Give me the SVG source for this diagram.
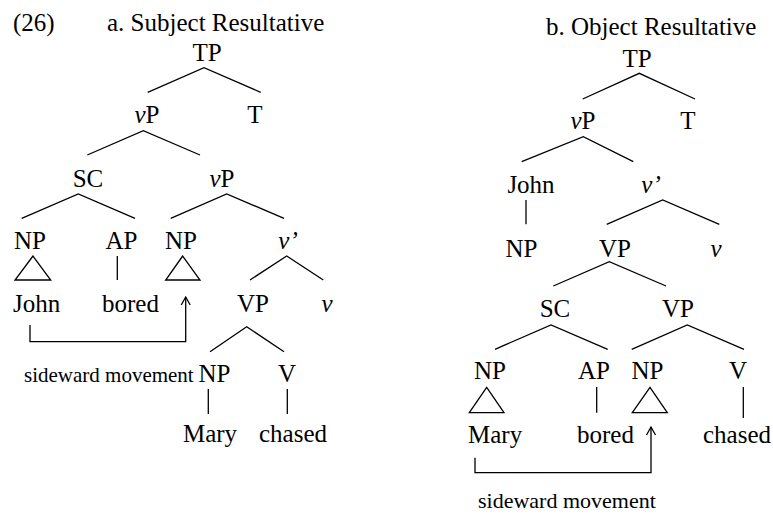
<svg xmlns="http://www.w3.org/2000/svg" width="773" height="518" viewBox="0 0 773 518">
<style>
text{font-size:25px;fill:#000}
.m{text-anchor:middle}
.i{font-style:italic}
.s{font-size:21px}
.s2{font-size:22px}
line,path,polygon{stroke:#000;stroke-width:1.3;fill:none}
</style>
<rect width="773" height="518" fill="#fff"/>
<g font-family="Liberation Serif, Times New Roman, serif">
<g id="titles">
<text x="13" y="31">(26)</text>
<text x="107" y="31">a. Subject Resultative</text>
<text x="546" y="35">b. Object Resultative</text>
</g>
<g id="treeA">
<g id="a-TP"><text class="m" x="207" y="61">TP</text></g>
<g id="a-vP1"><text class="m" x="147" y="123"><tspan class="i">v</tspan>P</text></g>
<g id="a-T"><text class="m" x="255" y="123">T</text></g>
<g id="a-SC"><text class="m" x="88" y="187">SC</text></g>
<g id="a-vP2"><text class="m" x="222" y="187"><tspan class="i">v</tspan>P</text></g>
<g id="a-NP1"><text class="m" x="30" y="249">NP</text></g>
<g id="a-AP"><text class="m" x="121.5" y="249">AP</text></g>
<g id="a-NP2"><text class="m" x="181" y="249">NP</text></g>
<g id="a-vbar"><text class="m i" x="288" y="249">v’</text></g>
<g id="a-John"><text x="13" y="312">John</text></g>
<g id="a-bored"><text x="102" y="312">bored</text></g>
<g id="a-VP"><text class="m" x="253" y="312">VP</text></g>
<g id="a-v"><text class="m i" x="327" y="312">v</text></g>
<g id="a-side"><text class="s" x="24" y="382">sideward movement</text></g>
<g id="a-NP3"><text class="m" x="214.5" y="382">NP</text></g>
<g id="a-V"><text class="m" x="287" y="382">V</text></g>
<g id="a-Mary"><text class="m" x="210" y="442">Mary</text></g>
<g id="a-chased"><text class="m" x="293" y="442">chased</text></g>
</g>
<g id="treeB">
<g id="b-TP"><text class="m" x="637" y="67">TP</text></g>
<g id="b-vP"><text class="m" x="583" y="129"><tspan class="i">v</tspan>P</text></g>
<g id="b-T"><text class="m" x="688" y="129">T</text></g>
<g id="b-John"><text class="m" x="531" y="193">John</text></g>
<g id="b-vbar"><text class="m i" x="651" y="193">v’</text></g>
<g id="b-NP0"><text class="m" x="521.5" y="257">NP</text></g>
<g id="b-VP1"><text class="m" x="615" y="257">VP</text></g>
<g id="b-v"><text class="m i" x="716" y="257">v</text></g>
<g id="b-SC"><text class="m" x="555" y="317">SC</text></g>
<g id="b-VP2"><text class="m" x="678" y="317">VP</text></g>
<g id="b-NP1"><text class="m" x="490" y="379">NP</text></g>
<g id="b-AP"><text class="m" x="594" y="379">AP</text></g>
<g id="b-NP2"><text class="m" x="647.5" y="379">NP</text></g>
<g id="b-V"><text class="m" x="738" y="379">V</text></g>
<g id="b-Mary"><text x="468" y="443">Mary</text></g>
<g id="b-bored"><text x="577" y="443">bored</text></g>
<g id="b-chased"><text x="703" y="443">chased</text></g>
<g id="b-side"><text class="s2" x="478" y="508">sideward movement</text></g>
</g>
</g>
<g id="connectors">
<path d="M147.7 92.3 L204 67.7 L260.7 92.3"/>
<path d="M87.3 155 L143.3 130.7 L200 155"/>
<path d="M21.7 218.3 L78.3 194 L135 218.3"/>
<path d="M170.7 218.3 L226.7 194 L284 218.3"/>
<polygon points="33,256 15,280 50.7,280"/>
<line x1="117.3" y1="256" x2="117.3" y2="280"/>
<polygon points="182.7,256 165.7,280 200,280"/>
<path d="M250 280 L286.7 256 L323.3 280"/>
<path d="M210 351.7 L246.7 326.7 L284 351.7"/>
<line x1="208.3" y1="389" x2="208.3" y2="414"/>
<line x1="287.3" y1="389" x2="287.3" y2="414"/>
<path d="M30 325 L30 341.7 L185.7 341.7 L185.7 297"/>
<path d="M181.2 305 L185.7 297 L190.2 305"/>
<path d="M582.7 99 L639.3 73.3 L695 99"/>
<path d="M521.7 161.7 L583.3 136.7 L633.3 161.7"/>
<line x1="526" y1="200" x2="526" y2="224.3"/>
<path d="M606.7 224.3 L662.7 200 L719.3 224.3"/>
<path d="M553.3 286 L609.3 261.7 L666 286"/>
<path d="M495 349.3 L551 325 L607.7 349.3"/>
<path d="M631.7 349.3 L687.3 325 L744 349.3"/>
<polygon points="486.7,387.3 469.3,412.7 504,412.7"/>
<line x1="596.7" y1="387" x2="596.7" y2="412.7"/>
<polygon points="650,387.3 632.3,412.7 667.3,412.7"/>
<line x1="743.3" y1="387" x2="743.3" y2="418"/>
<path d="M475 457.7 L475 472.7 L651 472.7 L651 427"/>
<path d="M646.5 435 L651 427 L655.5 435"/>
</g>
</svg>
